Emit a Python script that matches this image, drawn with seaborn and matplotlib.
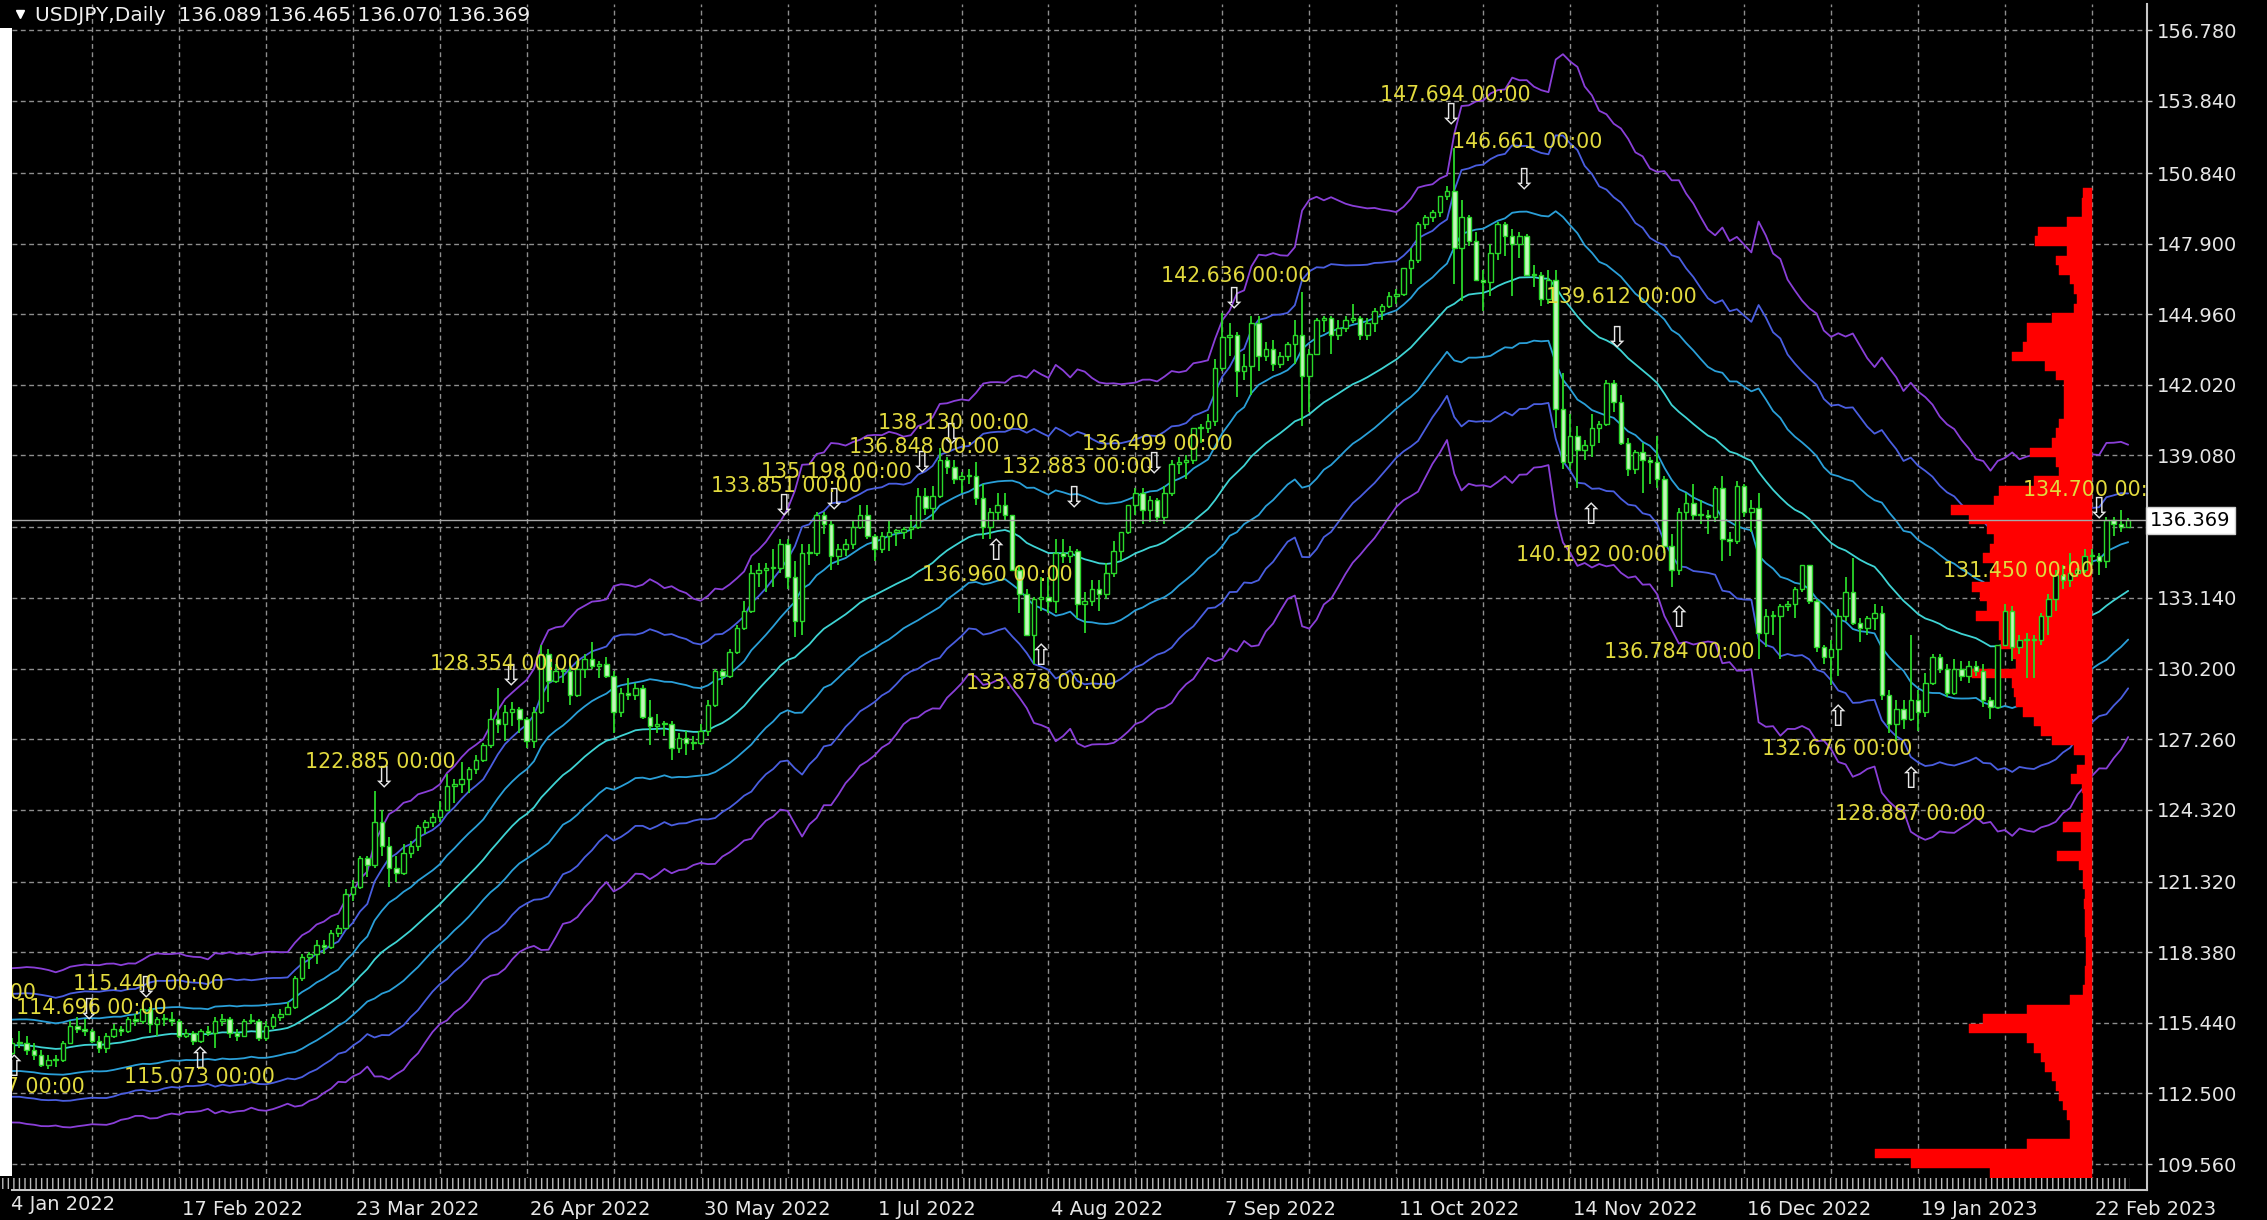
import numpy as np
import pandas as pd
import matplotlib
matplotlib.use("Agg")
import matplotlib.pyplot as plt
import matplotlib.transforms as mtransforms
from matplotlib.patches import Rectangle
import seaborn as sns

# -----------------------------
# USDJPY daily, 14 Jan 2022 .. 1 Mar 2023 (plus Dec 2021 warm-up for the bands)
# -----------------------------
n_warm = 32

opens = [
    113.1, 112.8, 113.1,
    112.8, 113.5, 113.5, 113.7, 113.5,
    113.4, 113.5, 113.7, 114.0, 113.7,
    113.7, 113.6, 114.1, 114.1, 114.4,
    114.4, 114.8, 114.8, 115.0, 115.1,
    115.1, 115.3, 116.1, 116.1, 115.8,
    115.6, 115.2, 115.3, 114.6,
    114.2,
    114.2, 114.6, 114.6, 114.3, 114.1,
    113.7, 113.9, 113.9, 114.6, 115.3,
    115.2, 115.1, 114.7, 114.4, 114.9,
    115.2, 115.1, 115.6, 115.5, 116.0,
    115.4, 115.6, 115.6, 115.5, 114.9,
    115.0, 114.7, 115.1, 115.0, 115.5,
    115.6, 115.0, 114.9, 115.5, 115.5,
    114.8, 115.3, 115.7, 115.8, 116.1,
    117.3, 118.2, 118.3, 118.7, 118.6,
    119.2, 119.4, 120.8, 121.1, 122.3,
    122.0, 123.8, 122.8, 121.9, 121.7,
    122.5, 122.8, 123.6, 123.8, 124.0,
    124.3, 125.3, 125.4, 125.6, 126.0,
    126.4, 127.0, 128.1, 127.9, 128.4,
    128.5, 128.1, 127.2, 128.4, 130.8,
    129.7, 130.1, 130.1, 129.1, 130.2,
    130.6, 130.3, 130.4, 129.9, 128.4,
    129.2, 129.1, 129.4, 128.2, 127.8,
    127.9, 127.9, 126.9, 127.3, 127.1,
    127.1, 127.6, 128.7, 130.1, 129.9,
    130.9, 131.9, 132.6, 134.2, 134.3,
    134.4, 134.4, 135.4, 134.0, 132.2,
    135.0, 135.0, 136.6, 136.2, 134.9,
    135.2, 135.4, 136.1, 136.6, 135.7,
    135.2, 135.7, 135.9, 135.9, 136.0,
    136.1, 137.4, 136.9, 137.4, 138.9,
    138.6, 138.1, 138.2, 138.2, 137.3,
    136.1, 136.7, 137.0, 136.6, 134.3,
    133.3, 131.6, 133.1, 133.2, 133.0,
    135.0, 134.9, 135.1, 132.9, 133.0,
    133.5, 133.3, 134.2, 135.1, 135.9,
    137.0, 137.5, 136.8, 137.2, 136.5,
    137.5, 138.7, 138.8, 138.9, 140.2,
    140.2, 140.5, 142.7, 144.0, 144.1,
    142.6, 142.8, 144.6, 143.2, 143.5,
    142.9, 143.2, 143.7, 144.1, 142.4,
    143.3, 144.7, 144.8, 144.1, 144.4,
    144.7, 144.8, 144.1, 144.6, 145.1,
    145.3, 145.7, 145.8, 146.9, 147.2,
    148.7, 149.0, 149.2, 149.9, 150.1,
    147.7, 149.0, 148.0, 146.4, 146.3,
    147.5, 148.7, 148.2, 147.9, 148.2,
    146.6, 146.6, 145.6, 146.4, 141.0,
    138.8, 139.9, 139.3, 139.5, 140.2,
    140.4, 142.1, 141.3, 139.6, 138.5,
    139.2, 138.9, 138.8, 138.1, 135.3,
    134.3, 136.7, 137.1, 136.6, 136.6,
    136.5, 137.7, 135.6, 135.5, 137.8,
    136.7, 136.9, 131.7, 132.4, 132.4,
    132.8, 132.9, 133.5, 134.5, 133.0,
    131.1, 130.7, 131.0, 132.4, 133.4,
    132.1, 131.9, 132.3, 132.5, 129.1,
    127.9, 128.5, 128.1, 128.9, 128.4,
    129.6, 130.7, 130.2, 129.2, 130.2,
    129.9, 130.3, 130.1, 128.9, 128.6,
    131.2, 132.6, 131.1, 131.4, 131.4,
    131.4, 132.4, 133.1, 134.1, 133.9,
    134.2, 134.3, 134.9, 134.9, 134.7,
    136.4, 136.2, 136.089,
]

highs = [
    113.9, 113.4, 113.5,
    113.6, 113.9, 113.9, 113.9, 113.6,
    113.7, 113.8, 114.3, 114.3, 113.9,
    113.8, 114.2, 114.3, 114.5, 114.5,
    114.9, 115.0, 115.0, 115.1, 115.2,
    115.4, 116.3, 116.2, 116.3, 116.0,
    115.8, 115.7, 115.4, 114.7,
    114.6,
    114.8, 115.1, 114.9, 114.6, 114.3,
    114.1, 114.1, 114.7, 115.5, 115.7,
    115.6, 115.2, 114.9, 115.0, 115.4,
    115.3, 115.7, 115.8, 116.3, 116.1,
    115.7, 115.8, 115.9, 115.6, 115.2,
    115.1, 115.2, 115.3, 115.7, 115.8,
    115.7, 115.2, 115.6, 115.8, 115.6,
    115.5, 115.8, 116.0, 116.3, 117.4,
    118.3, 118.4, 118.9, 118.9, 119.3,
    119.5, 121.0, 121.4, 122.4, 122.4,
    125.1, 124.3, 123.2, 122.4, 122.9,
    123.0, 123.7, 123.9, 124.2, 124.7,
    125.8, 125.6, 126.3, 126.1, 126.6,
    127.1, 128.5, 129.4, 128.7, 128.8,
    128.6, 128.2, 128.6, 131.2, 131.0,
    130.4, 130.2, 130.4, 130.5, 130.8,
    131.3, 130.5, 130.7, 130.1, 129.4,
    129.8, 129.6, 129.5, 128.9, 128.3,
    128.0, 128.0, 127.5, 127.6, 127.4,
    127.9, 128.9, 130.2, 130.2, 131.0,
    132.0, 133.0, 134.5, 134.6, 134.6,
    135.2, 135.6, 135.6, 134.7, 135.4,
    135.4, 136.7, 136.7, 136.4, 135.4,
    135.6, 136.4, 137.0, 137.0, 135.8,
    135.9, 136.4, 136.0, 136.1, 136.6,
    137.7, 137.7, 137.8, 139.4, 139.0,
    138.9, 138.4, 138.5, 138.8, 137.9,
    136.9, 137.5, 137.5, 136.6, 134.5,
    133.5, 133.2, 134.0, 134.0, 135.6,
    135.6, 135.3, 135.2, 133.4, 133.9,
    133.9, 134.6, 135.5, 135.9, 137.0,
    137.7, 137.7, 137.4, 137.3, 137.8,
    138.9, 139.0, 139.1, 140.2, 140.4,
    140.8, 143.1, 145.0, 144.6, 144.2,
    143.3, 144.9, 144.9, 143.8, 143.9,
    143.4, 143.8, 144.7, 145.9, 143.5,
    144.8, 144.9, 144.9, 144.7, 144.9,
    145.4, 144.9, 144.8, 145.2, 145.4,
    145.9, 146.0, 146.9, 147.7, 148.8,
    149.1, 149.3, 149.9, 150.3, 151.9,
    149.7, 149.1, 148.4, 146.8, 147.9,
    148.8, 148.8, 148.5, 148.4, 148.3,
    147.0, 146.7, 146.8, 146.8, 142.5,
    140.8, 140.3, 139.7, 140.8, 140.5,
    142.2, 142.2, 141.6, 139.8, 139.3,
    139.6, 139.0, 139.9, 138.2, 135.8,
    136.9, 137.5, 137.9, 137.2, 136.8,
    137.8, 138.2, 135.9, 138.0, 137.9,
    137.2, 137.5, 132.7, 132.6, 132.9,
    133.0, 133.6, 134.5, 134.5, 133.1,
    131.2, 131.4, 132.7, 134.0, 134.8,
    132.3, 132.4, 132.9, 132.8, 129.3,
    128.9, 128.9, 131.6, 129.3, 130.0,
    130.8, 130.8, 130.4, 130.6, 130.5,
    130.5, 130.5, 130.4, 129.0, 131.2,
    132.9, 132.8, 131.6, 131.7, 131.6,
    132.5, 133.3, 134.3, 134.5, 135.0,
    134.4, 135.2, 135.2, 135.0, 136.5,
    136.5, 136.8, 136.465,
]

lows = [
    112.6, 112.6, 112.5,
    112.7, 113.3, 113.4, 113.4, 113.2,
    113.4, 113.4, 113.5, 113.6, 113.2,
    113.1, 113.5, 113.9, 114.0, 114.3,
    114.3, 114.7, 114.6, 114.8, 114.9,
    114.9, 115.3, 115.7, 115.6, 115.5,
    115.1, 115.1, 114.5, 114.0,
    113.9,
    114.1, 114.4, 114.1, 113.9, 113.6,
    113.5, 113.6, 113.8, 114.6, 115.0,
    114.9, 114.6, 114.2, 114.2, 114.8,
    114.9, 115.0, 115.3, 115.4, 115.0,
    114.9, 115.3, 115.3, 114.8, 114.8,
    114.5, 114.6, 114.9, 114.4, 115.3,
    114.8, 114.7, 114.9, 115.4, 114.7,
    114.7, 115.2, 115.5, 115.8, 116.0,
    117.2, 117.7, 117.9, 118.3, 118.5,
    119.0, 119.4, 120.5, 121.0, 121.5,
    121.9, 122.4, 121.1, 121.3, 121.6,
    122.3, 122.6, 123.3, 123.6, 123.8,
    124.3, 124.6, 125.0, 125.0, 125.8,
    126.3, 126.9, 127.5, 127.2, 127.8,
    127.5, 126.9, 126.9, 128.3, 128.8,
    129.6, 129.6, 128.7, 129.0, 129.8,
    130.2, 129.8, 129.8, 127.5, 128.2,
    128.9, 128.9, 128.1, 127.0, 127.5,
    127.4, 126.4, 126.7, 126.6, 126.8,
    127.0, 127.4, 128.6, 129.5, 129.8,
    130.8, 131.8, 132.5, 133.6, 133.4,
    133.6, 134.2, 133.5, 131.5, 131.6,
    134.5, 134.9, 135.8, 134.3, 134.5,
    134.9, 135.2, 136.0, 135.6, 134.7,
    135.0, 135.1, 135.3, 135.6, 135.6,
    136.0, 136.6, 136.4, 137.3, 138.3,
    137.9, 137.5, 137.9, 137.0, 135.6,
    135.6, 136.4, 136.4, 134.3, 132.5,
    131.6, 130.4, 132.6, 132.5, 132.5,
    134.6, 134.6, 132.3, 131.7, 132.8,
    132.6, 133.1, 134.0, 134.7, 135.8,
    136.6, 136.2, 136.3, 136.3, 136.2,
    137.4, 138.3, 138.1, 138.7, 139.6,
    140.0, 140.3, 142.6, 143.2, 141.5,
    142.2, 141.6, 142.6, 143.0, 142.6,
    142.7, 143.0, 142.9, 140.3, 140.9,
    143.3, 144.2, 143.3, 143.9, 144.2,
    144.6, 143.9, 143.9, 144.2, 144.7,
    145.2, 145.4, 145.7, 146.2, 147.1,
    148.5, 148.8, 149.0, 149.7, 146.2,
    145.5, 147.8, 146.4, 145.1, 145.7,
    147.2, 147.4, 145.7, 147.3, 146.6,
    146.1, 145.3, 145.4, 140.2, 138.5,
    138.5, 137.7, 138.9, 139.0, 139.6,
    140.3, 140.9, 139.5, 138.2, 138.3,
    137.5, 137.9, 137.7, 135.0, 133.6,
    134.1, 136.4, 136.4, 136.2, 135.8,
    136.3, 134.7, 134.9, 135.4, 136.5,
    135.9, 130.6, 131.1, 131.6, 130.6,
    132.6, 132.3, 133.4, 132.9, 130.9,
    130.4, 129.5, 129.9, 132.2, 132.0,
    131.3, 131.6, 131.8, 128.9, 127.5,
    127.2, 127.7, 128.0, 127.6, 128.2,
    129.5, 130.0, 129.0, 129.1, 129.7,
    129.6, 129.9, 128.6, 128.1, 128.5,
    131.2, 130.5, 130.8, 129.8, 129.8,
    131.2, 131.6, 132.6, 133.5, 133.6,
    134.0, 134.2, 134.5, 134.1, 134.4,
    135.7, 135.9, 136.070,
]

closes = [
    112.8, 113.1, 112.8,
    113.5, 113.5, 113.7, 113.5, 113.4,
    113.5, 113.7, 114.0, 113.7, 113.7,
    113.6, 114.1, 114.1, 114.4, 114.4,
    114.8, 114.8, 115.0, 115.1, 115.1,
    115.3, 116.1, 116.1, 115.8, 115.6,
    115.2, 115.3, 114.6, 114.2,
    114.2,
    114.6, 114.6, 114.3, 114.1, 113.7,
    113.9, 113.9, 114.6, 115.3, 115.2,
    115.1, 114.7, 114.4, 114.9, 115.2,
    115.1, 115.6, 115.5, 116.0, 115.4,
    115.6, 115.6, 115.5, 114.9, 115.0,
    114.7, 115.1, 115.0, 115.5, 115.6,
    115.0, 114.9, 115.5, 115.5, 114.8,
    115.3, 115.7, 115.8, 116.1, 117.3,
    118.2, 118.3, 118.7, 118.6, 119.2,
    119.4, 120.8, 121.1, 122.3, 122.0,
    123.8, 122.8, 121.9, 121.7, 122.5,
    122.8, 123.6, 123.8, 124.0, 124.3,
    125.3, 125.4, 125.6, 126.0, 126.4,
    127.0, 128.1, 127.9, 128.4, 128.5,
    128.1, 127.2, 128.4, 130.8, 129.7,
    130.1, 130.1, 129.1, 130.2, 130.6,
    130.3, 130.4, 129.9, 128.4, 129.2,
    129.1, 129.4, 128.2, 127.8, 127.9,
    127.9, 126.9, 127.3, 127.1, 127.1,
    127.6, 128.7, 130.1, 129.9, 130.9,
    131.9, 132.6, 134.2, 134.3, 134.4,
    134.4, 135.4, 134.0, 132.2, 135.0,
    135.0, 136.6, 136.2, 134.9, 135.2,
    135.4, 136.1, 136.6, 135.7, 135.2,
    135.7, 135.9, 135.9, 136.0, 136.1,
    137.4, 136.9, 137.4, 138.9, 138.6,
    138.1, 138.2, 138.2, 137.3, 136.1,
    136.7, 137.0, 136.6, 134.3, 133.3,
    131.6, 133.1, 133.2, 133.0, 135.0,
    134.9, 135.1, 132.9, 133.0, 133.5,
    133.3, 134.2, 135.1, 135.9, 137.0,
    137.5, 136.8, 137.2, 136.5, 137.5,
    138.7, 138.8, 138.9, 140.2, 140.2,
    140.5, 142.7, 144.0, 144.1, 142.6,
    142.8, 144.6, 143.2, 143.5, 142.9,
    143.2, 143.7, 144.1, 142.4, 143.3,
    144.7, 144.8, 144.1, 144.4, 144.7,
    144.8, 144.1, 144.6, 145.1, 145.3,
    145.7, 145.8, 146.9, 147.2, 148.7,
    149.0, 149.2, 149.9, 150.1, 147.7,
    149.0, 148.0, 146.4, 146.3, 147.5,
    148.7, 148.2, 147.9, 148.2, 146.6,
    146.6, 145.6, 146.4, 141.0, 138.8,
    139.9, 139.3, 139.5, 140.2, 140.4,
    142.1, 141.3, 139.6, 138.5, 139.2,
    138.9, 138.8, 138.1, 135.3, 134.3,
    136.7, 137.1, 136.6, 136.6, 136.5,
    137.7, 135.6, 135.5, 137.8, 136.7,
    136.9, 131.7, 132.4, 132.4, 132.8,
    132.9, 133.5, 134.5, 133.0, 131.1,
    130.7, 131.0, 132.4, 133.4, 132.1,
    131.9, 132.3, 132.5, 129.1, 127.9,
    128.5, 128.1, 128.9, 128.4, 129.6,
    130.7, 130.2, 129.2, 130.2, 129.9,
    130.3, 130.1, 128.9, 128.6, 131.2,
    132.6, 131.1, 131.4, 131.4, 131.4,
    132.4, 133.1, 134.1, 133.9, 134.2,
    134.3, 134.9, 134.9, 134.7, 136.4,
    136.2, 136.1, 136.369,
]

# volume-at-price profile (red), bins of 0.4 from 108.8 up, widths in bars
profile_start = 108.8
profile_step = 0.4
profile_width = [
    4, 14, 25, 30, 9, 3, 3, 3.5, 4, 4.5,
    5, 5.5, 6.5, 7, 8, 9, 17, 15, 9, 3,
    1.2, 1.0, 0.9, 0.8, 0.8, 0.8, 0.9, 1.0, 1.0, 1.1,
    1.0, 1.2, 1.3, 1.8, 4.8, 1.5, 1.5, 4.0, 1.5, 1.3,
    1.3, 1.4, 2.9, 2.0, 1.0, 2.5, 5.5, 7, 8, 9.5,
    10.5, 10.8, 11, 16.5, 10.5, 11, 12.5, 12.8, 12.8, 16,
    14.5, 15.5, 16.5, 14, 13.5, 15, 14, 13.5, 14.5, 17,
    19.5, 13.5, 12.8, 8, 4.5, 5, 8.5, 5.5, 5.0, 4.5,
    3.8, 3.8, 3.8, 3.8, 5, 6.5, 11, 9.5, 9, 9,
    5.5, 2.5, 2.0, 2.5, 3.0, 4.5, 5.0, 3.5, 7.9, 7.5,
    3.5, 1.4, 1.4, 1.3,
]
profile_right = 288.0

# fractal labels (text centre bar, price) and arrows
frac_text = ["115.998 00:00", "115.440 00:00", "114.696 00:00", "113.747 00:00",
             "115.073 00:00", "122.885 00:00", "128.354 00:00", "133.851 00:00",
             "135.198 00:00", "136.848 00:00", "138.130 00:00", "132.883 00:00",
             "136.499 00:00", "136.960 00:00", "133.878 00:00", "142.636 00:00",
             "147.694 00:00", "146.661 00:00", "139.612 00:00", "140.192 00:00",
             "136.784 00:00", "132.676 00:00", "128.887 00:00", "131.450 00:00",
             "134.700 00:00"]
frac_text_bar = [-6.2, 19.8, 11.9, 0.6, 26.9, 51.8, 69.0, 107.9, 114.8, 126.8,
                 130.9, 148.0, 159.0, 137.0, 143.0, 169.9, 200.1, 210.0, 223.0,
                 219.0, 231.0, 252.9, 262.9, 277.9, 288.9]
frac_text_price = [116.69, 117.08, 116.08, 112.79, 113.17, 126.30, 130.40, 137.81,
                   138.37, 139.43, 140.41, 138.60, 139.57, 134.08, 129.61, 146.55,
                   154.10, 152.14, 145.69, 134.95, 130.88, 126.85, 124.14, 134.25,
                   137.63]

arrow_bar = [19.3, 11.45, 1.15, 26.8, 52.25, 69.7, 107.4, 114.3, 126.5, 130.5, 147.4,
             136.7, 142.8, 158.4, 169.5, 199.4, 209.5, 222.4, 218.8, 230.9, 252.8,
             262.9, 288.8]
arrow_price = [116.87, 115.97, 113.55, 113.88, 125.63, 129.9, 136.98, 137.2, 138.76,
               139.9, 137.3, 135.06, 130.68, 138.7, 145.6, 153.25, 150.55, 143.95,
               136.54, 132.27, 128.16, 125.54, 136.85]
arrow_up = [False, False, True, True, False, False, False, False, False, False, False,
            True, True, False, False, False, False, False, True, True, True,
            True, False]

ytick_vals = [156.78, 153.84, 150.84, 147.90, 144.96, 142.02, 139.08, 136.08, 133.14,
              130.20, 127.26, 124.32, 121.32, 118.38, 115.44, 112.50, 109.56]
date_bars = [24, 48, 72, 96, 120, 144, 168, 192, 216, 240, 264, 288]
date_labels = ["17 Feb 2022", "23 Mar 2022", "26 Apr 2022", "30 May 2022", "1 Jul 2022",
               "4 Aug 2022", "7 Sep 2022", "11 Oct 2022", "14 Nov 2022", "16 Dec 2022",
               "19 Jan 2023", "22 Feb 2023"]
last_price = 136.369
title = "USDJPY,Daily  136.089 136.465 136.070 136.369"

assert len(opens) == len(highs) == len(lows) == len(closes)

df = pd.DataFrame({"open": opens, "high": highs, "low": lows, "close": closes})
df["bar"] = np.arange(len(df)) - n_warm

# bands: EMA centre +/- multiples of a Wilder-smoothed ATR
mid = df["close"].ewm(span=30, adjust=False).mean()
prev_close = df["close"].shift(1)
tr = pd.concat([df["high"] - df["low"],
                (df["high"] - prev_close).abs(),
                (df["low"] - prev_close).abs()], axis=1).max(axis=1)
atr = tr.ewm(alpha=1 / 14, adjust=False).mean()
band_mult = 1.6

# -----------------------------
# figure
# -----------------------------
sns.set_theme(style="dark", rc={"axes.facecolor": "black", "figure.facecolor": "black"})
plt.rcParams["font.family"] = ["DejaVu Sans"]
plt.rcParams["hatch.linewidth"] = 1.0

W, H = 2267, 1220
fig = plt.figure(figsize=(W / 100, H / 100), dpi=100)
ax = fig.add_axes([12 / W, 30 / H, (2147 - 12) / W, (1190 - 4) / H])
ax.set_facecolor("black")

vis = df["bar"] >= -1
xs = df.loc[vis, "bar"]
band_cols = {3: "#8a3fd8", 2: "#4a5ee0", 1: "#2a9fd8"}
for k, col in band_cols.items():
    for sign in (1, -1):
        sns.lineplot(x=xs, y=(mid + sign * k * band_mult * atr)[vis], ax=ax,
                     color=col, lw=1.3, legend=False, errorbar=None, zorder=2)
sns.lineplot(x=xs, y=mid[vis], ax=ax, color="#3fd4d4", lw=1.3, legend=False,
             errorbar=None, zorder=2)

# volume profile
levels = profile_start + profile_step * np.arange(len(profile_width))
ax.barh(levels, -np.array(profile_width), left=profile_right, height=profile_step,
        color="#ff0000", edgecolor="#ff0000", linewidth=0.3, zorder=3)

# candles
wick = "#2ad82a"
o, c = df["open"].values, df["close"].values
bull = c >= o
ax.vlines(df["bar"], df["low"], df["high"], color=wick, lw=1.3, zorder=4)
ax.bar(df["bar"], np.maximum(np.abs(c - o), 0.05), bottom=np.minimum(o, c), width=0.62,
       color=np.where(bull, "black", "#c2f7ba"), edgecolor=wick, linewidth=1.0, zorder=5)

# bid line
ax.axhline(last_price, color="#a8a8a8", lw=1.0, zorder=5.5)

# fractal arrows and labels
for b, p, up in zip(arrow_bar, arrow_price, arrow_up):
    ax.text(b, p, "\u21e7" if up else "\u21e9", color="#e8e8e8", fontsize=21,
            ha="center", va="center", zorder=6, clip_on=True)
for t, b, p in zip(frac_text, frac_text_bar, frac_text_price):
    ax.text(b, p, t, color="#e2da3e", fontsize=14.8, ha="center", va="center",
            zorder=7, clip_on=True)

# axes limits, grid, ticks
ax.set_xlim(0.966, 295.6)
ax.set_ylim(108.48, 157.88)
ax.set_axisbelow(True)
ax.set_yticks(ytick_vals)
# the 136.080 level sits under the bid price box, so its label is not shown
ax.set_yticklabels(["" if abs(v - 136.08) < 1e-6 else f"{v:.3f}" for v in ytick_vals])
ax.yaxis.tick_right()
ax.set_xticks(date_bars)
ax.set_xticklabels(date_labels, ha="left")
ax.set_xticks(np.arange(12, 295, 24), minor=True)
grid_kw = dict(color="#8e8e8e", linestyle=(0, (3.5, 2.5)), lw=1.0)
ax.grid(True, which="both", axis="x", **grid_kw)
ax.grid(True, which="major", axis="y", **grid_kw)
ax.tick_params(axis="y", which="major", length=3.6, width=1, color="#c8c8c8",
               labelcolor="#e6e6e6", labelsize=14, pad=3.6, direction="out")
ax.tick_params(axis="x", which="major", length=4, width=1, color="#c8c8c8",
               labelcolor="#e6e6e6", labelsize=14, pad=3, direction="out")
ax.tick_params(axis="x", which="minor", length=0)
ax.set_xlabel("")
ax.set_ylabel("")
for lab in ax.get_xticklabels():
    lab.set_transform(lab.get_transform() + mtransforms.ScaledTranslation(3 / 100, 0, fig.dpi_scale_trans))

for side in ("left", "top"):
    ax.spines[side].set_visible(False)
for side in ("right", "bottom"):
    ax.spines[side].set_color("#c8c8c8")
    ax.spines[side].set_linewidth(1.5)

# first (clipped) date label
fig.text(11 / W, 1 - 1205 / H, "4 Jan 2022", color="#e6e6e6", fontsize=14, ha="left", va="center")

# strip of bar markers along the bottom
fig.add_artist(Rectangle((0, (1220 - 1189) / H), 2130 / W, 11 / H, transform=fig.transFigure,
                         facecolor="black", edgecolor="#bcbcbc", hatch="|||", linewidth=0, zorder=3))
# white window border on the left
fig.add_artist(Rectangle((0, (1220 - 1176) / H), 12 / W, (1176 - 28) / H, transform=fig.transFigure,
                         facecolor="white", edgecolor="none", zorder=3))

# price box on the right scale
ax.text(1.0015, last_price, f"{last_price:.3f}", transform=ax.get_yaxis_transform(),
        ha="left", va="center", fontsize=14, color="black", zorder=10, clip_on=False,
        bbox=dict(boxstyle="square,pad=0.22", fc="white", ec="#d0d0d0", lw=1))

# title
ax.plot([0.0037], [0.9916], marker="v", ms=6, color="white", transform=ax.transAxes, clip_on=False)
ax.text(0.0108, 0.9899, title, transform=ax.transAxes, color="#f0f0f0", fontsize=14.5,
        ha="left", va="center", zorder=10)

fig.savefig("out.png", dpi=100, facecolor="black")
